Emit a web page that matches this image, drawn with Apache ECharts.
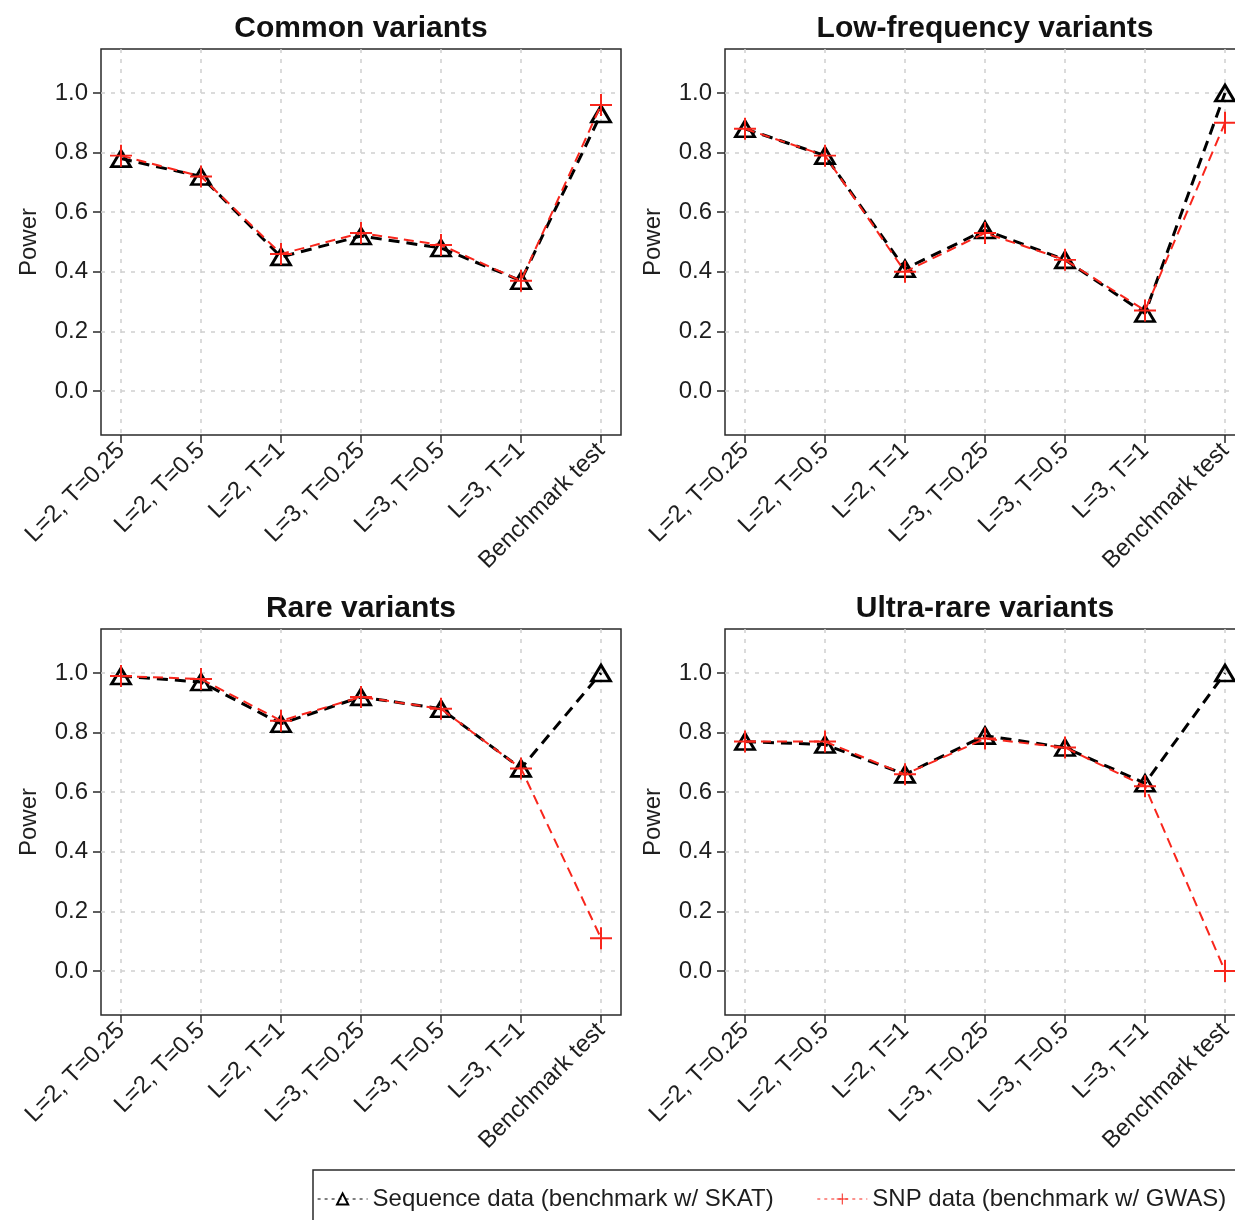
<!DOCTYPE html>
<html>
<head>
<meta charset="utf-8">
<script src="https://cdn.jsdelivr.net/npm/echarts@6/dist/echarts.min.js"></script>
<style>
  html, body { margin: 0; padding: 0; background: #fff; }
  #chart { width: 1235px; height: 1220px; }
</style>
</head>
<body>
<div id="chart"></div>
<script>
// Test configurations along the x axis
const categories = ['L=2, T=0.25', 'L=2, T=0.5', 'L=2, T=1', 'L=3, T=0.25', 'L=3, T=0.5', 'L=3, T=1', 'Benchmark test'];
const panelTitles = ['Common variants', 'Low-frequency variants', 'Rare variants', 'Ultra-rare variants'];
const seriesNames = ['Sequence data (benchmark w/ SKAT)', 'SNP data (benchmark w/ GWAS)'];
const yTicks = [0, 0.2, 0.4, 0.6, 0.8, 1.0];

// Power per panel: sequence data vs SNP data
const seqCommon    = [0.78, 0.72, 0.45, 0.52, 0.48, 0.37, 0.93];
const snpCommon    = [0.79, 0.72, 0.46, 0.53, 0.49, 0.37, 0.96];
const seqLowFreq   = [0.88, 0.79, 0.41, 0.54, 0.44, 0.26, 1.00];
const snpLowFreq   = [0.88, 0.79, 0.40, 0.53, 0.44, 0.27, 0.90];
const seqRare      = [0.99, 0.97, 0.83, 0.92, 0.88, 0.68, 1.00];
const snpRare      = [0.99, 0.98, 0.84, 0.92, 0.88, 0.68, 0.11];
const seqUltraRare = [0.77, 0.76, 0.66, 0.79, 0.75, 0.63, 1.00];
const snpUltraRare = [0.77, 0.77, 0.66, 0.78, 0.75, 0.62, 0.00];

const seqPanels = [seqCommon, seqLowFreq, seqRare, seqUltraRare];
const snpPanels = [snpCommon, snpLowFreq, snpRare, snpUltraRare];

const FONT = '"Liberation Sans", Arial, Helvetica, sans-serif';
const TEXT = '#1e1e1e';
const RED = '#f8261c';
const PLUS = 'path://M-0.09,-1L0.09,-1L0.09,-0.09L1,-0.09L1,0.09L0.09,0.09L0.09,1L-0.09,1L-0.09,0.09L-1,0.09L-1,-0.09L-0.09,-0.09Z';
const xPositions = categories.map((c, i) => i + 1);

const panelPos = [[101, 49], [725, 49], [101, 629], [725, 629]];
const PW = 520, PH = 386;

const grids = [], xAxes = [], yAxes = [], titles = [], series = [];

panelPos.forEach(([left, top], i) => {
  grids.push({
    left: left, top: top, width: PW, height: PH,
    show: true, backgroundColor: '#fff', borderColor: '#2a2a2a', borderWidth: 1.5,
    containLabel: false, outerBoundsMode: 'none'
  });
  titles.push({
    text: panelTitles[i],
    left: left + PW / 2, textAlign: 'center', top: top - 35, padding: 0,
    textStyle: { fontFamily: FONT, fontSize: 30, fontWeight: 'bold', color: '#111' }
  });
  xAxes.push({
    type: 'value', gridIndex: i, min: 0.75, max: 7.25,
    axisLine: { show: false, onZero: false },
    axisTick: { show: true, length: 8, customValues: xPositions, lineStyle: { color: '#2a2a2a', width: 1.5 } },
    axisLabel: {
      customValues: xPositions, rotate: 45, margin: 12,
      formatter: v => categories[Math.round(v) - 1] || '',
      fontFamily: FONT, fontSize: 24, color: TEXT
    },
    splitLine: { show: true, lineStyle: { color: '#cfcfcf', type: [4, 6], width: 1.5 } }
  });
  yAxes.push({
    type: 'value', gridIndex: i, min: -0.148, max: 1.148,
    name: 'Power', nameLocation: 'middle', nameGap: 60,
    nameTextStyle: { fontFamily: FONT, fontSize: 24, color: TEXT },
    axisLine: { show: false, onZero: false },
    axisTick: { show: true, length: 8, customValues: yTicks, lineStyle: { color: '#2a2a2a', width: 1.5 } },
    axisLabel: {
      customValues: yTicks, margin: 13,
      formatter: v => v.toFixed(1),
      fontFamily: FONT, fontSize: 24, color: TEXT
    },
    splitLine: { show: true, lineStyle: { color: '#cfcfcf', type: [4, 6], width: 1.5 } }
  });
  series.push({
    type: 'line', name: seriesNames[0], xAxisIndex: i, yAxisIndex: i,
    data: seqPanels[i].map((v, j) => [xPositions[j], v]),
    symbol: 'triangle', symbolSize: [19, 16],
    itemStyle: { color: 'none', borderColor: '#000', borderWidth: 2.8 },
    lineStyle: { color: '#000', width: 3, type: [11, 7] },
    z: 2, animation: false
  });
  series.push({
    type: 'line', name: seriesNames[1], xAxisIndex: i, yAxisIndex: i,
    data: snpPanels[i].map((v, j) => [xPositions[j], v]),
    symbol: PLUS, symbolSize: 22,
    itemStyle: { color: RED, borderWidth: 0 },
    lineStyle: { color: RED, width: 2, type: [10, 6] },
    z: 3, animation: false
  });
});

const chart = echarts.init(document.getElementById('chart'), null, { renderer: 'canvas' });
chart.setOption({
  backgroundColor: '#fff',
  animation: false,
  title: titles,
  grid: grids,
  xAxis: xAxes,
  yAxis: yAxes,
  series: series,
  legend: {
    left: 317, top: 1187, padding: 0,
    itemWidth: 50, itemHeight: 14, itemGap: 43,
    textStyle: { fontFamily: FONT, fontSize: 24, color: TEXT },
    data: [
      { name: seriesNames[0], lineStyle: { type: [3, 4], width: 1.2 } },
      { name: seriesNames[1], lineStyle: { type: [3, 4], width: 1.2 } }
    ]
  },
  graphic: [{
    type: 'rect', silent: true,
    shape: { x: 313, y: 1170, width: 1000, height: 100 },
    style: { fill: 'none', stroke: '#2a2a2a', lineWidth: 1.5 }
  }]
});
</script>
</body>
</html>
